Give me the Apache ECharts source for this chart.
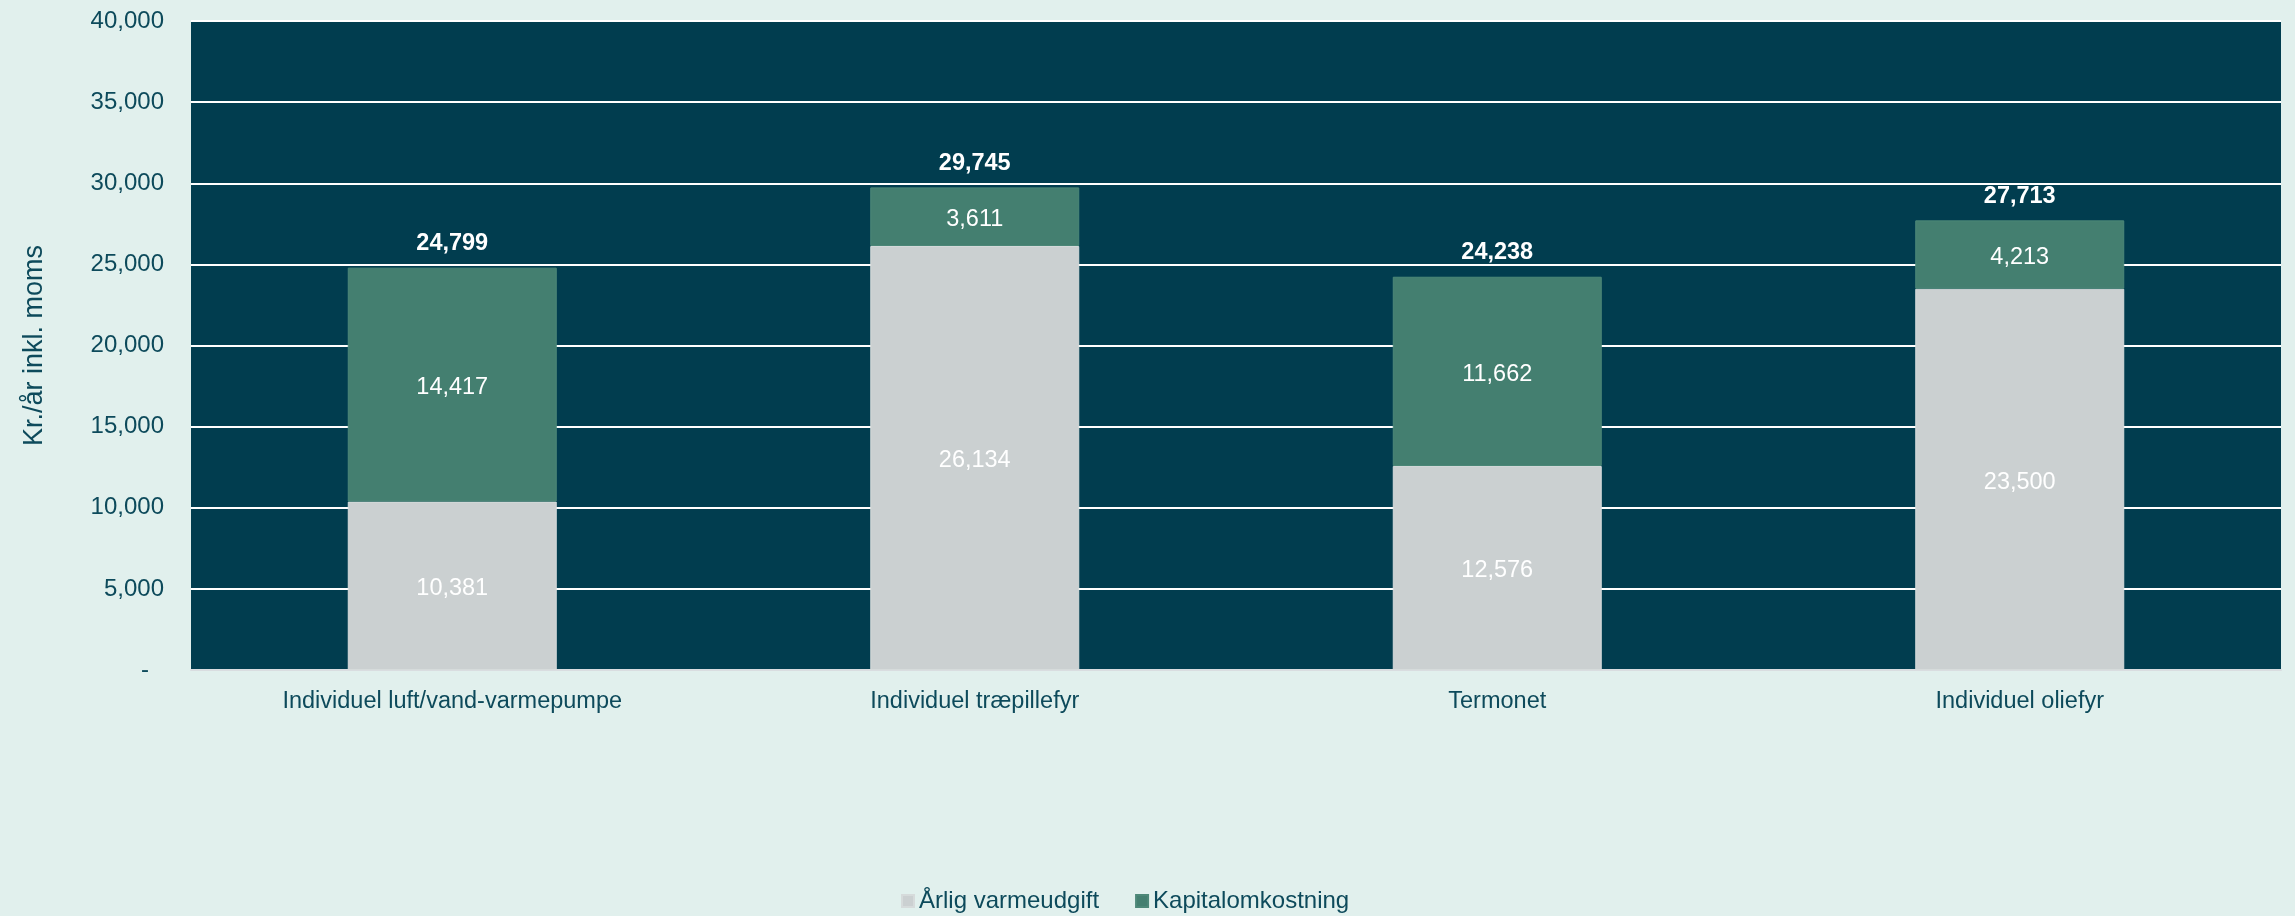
<!DOCTYPE html>
<html>
<head>
<meta charset="utf-8">
<style>
  html, body { margin: 0; padding: 0; background: #e1f0ed; }
  #chart { width: 2295px; height: 916px; }
</style>
<script src="https://cdn.jsdelivr.net/npm/echarts@6/dist/echarts.min.js"></script>
</head>
<body>
<div id="chart"></div>
<script>
const categories = [
  "Individuel luft/vand-varmepumpe",
  "Individuel træpillefyr",
  "Termonet",
  "Individuel oliefyr",
];
const aarligVarmeudgift = [10381, 26134, 12576, 23500];
const kapitalomkostning = [14417, 3611, 11662, 4213];
const totals = [24799, 29745, 24238, 27713];
const yTicks = [0, 5000, 10000, 15000, 20000, 25000, 30000, 35000, 40000];

const textColor = "#0d4a5b";
const font = "'Liberation Sans', Arial, sans-serif";
const fmt = (v) => v.toLocaleString("en-US");

const chart = echarts.init(document.getElementById("chart"));
chart.setOption({
  animation: false,
  backgroundColor: "#e1f0ed",
  textStyle: { fontFamily: font },
  grid: {
    left: 191,
    right: 14,
    top: 21,
    bottom: 246,
    show: true,
    backgroundColor: "#013d4f",
    borderWidth: 0,
  },
  legend: {
    data: ["Årlig varmeudgift", "Kapitalomkostning"],
    left: 896,
    top: 884,
    icon: "rect",
    itemWidth: 12,
    itemHeight: 12,
    itemGap: 36,
    textStyle: { color: textColor, fontSize: 24, fontFamily: font },
  },
  xAxis: {
    type: "category",
    data: categories,
    axisTick: { show: false },
    axisLine: { lineStyle: { color: "#d9dde0", width: 2 } },
    axisLabel: { color: textColor, fontSize: 23.5, margin: 20 },
  },
  yAxis: {
    type: "value",
    min: yTicks[0],
    max: yTicks[yTicks.length - 1],
    interval: 5000,
    name: "Kr./år inkl. moms",
    nameLocation: "middle",
    nameRotate: 90,
    nameGap: 143,
    nameTextStyle: { color: textColor, fontSize: 27 },
    axisLine: { show: false },
    axisTick: { show: false },
    axisLabel: {
      color: textColor,
      fontSize: 24,
      margin: 27,
      formatter: (v) => (v === 0 ? "{d|-}" : fmt(v)),
      rich: { d: { fontSize: 24, color: textColor, padding: [0, 15, 0, 0] } },
    },
    splitLine: { lineStyle: { color: "#ffffff", width: 2 } },
  },
  series: [
    {
      name: "Årlig varmeudgift",
      type: "bar",
      stack: "cost",
      barWidth: "40%",
      data: aarligVarmeudgift,
      itemStyle: { color: "#cbd0d1", borderColor: "#d6dbdb", borderWidth: 1 },
      label: {
        show: true,
        position: "inside",
        offset: [0, 3],
        color: "#ffffff",
        fontSize: 23.5,
        formatter: (p) => fmt(p.value),
      },
    },
    {
      name: "Kapitalomkostning",
      type: "bar",
      stack: "cost",
      barWidth: "40%",
      data: kapitalomkostning,
      itemStyle: { color: "#447f70", borderColor: "#4d8878", borderWidth: 1 },
      label: {
        show: true,
        position: "inside",
        offset: [0, 3],
        color: "#ffffff",
        fontSize: 23.5,
        formatter: (p) => fmt(p.value),
      },
    },
    {
      name: "Total",
      type: "bar",
      barWidth: "40%",
      barGap: "-100%",
      z: 1,
      data: totals,
      itemStyle: { color: "rgba(0,0,0,0)" },
      label: {
        show: true,
        position: "top",
        distance: 12,
        color: "#ffffff",
        fontSize: 23.5,
        fontWeight: "bold",
        formatter: (p) => fmt(p.value),
      },
      tooltip: { show: false },
    },
  ],
});
</script>
</body>
</html>
